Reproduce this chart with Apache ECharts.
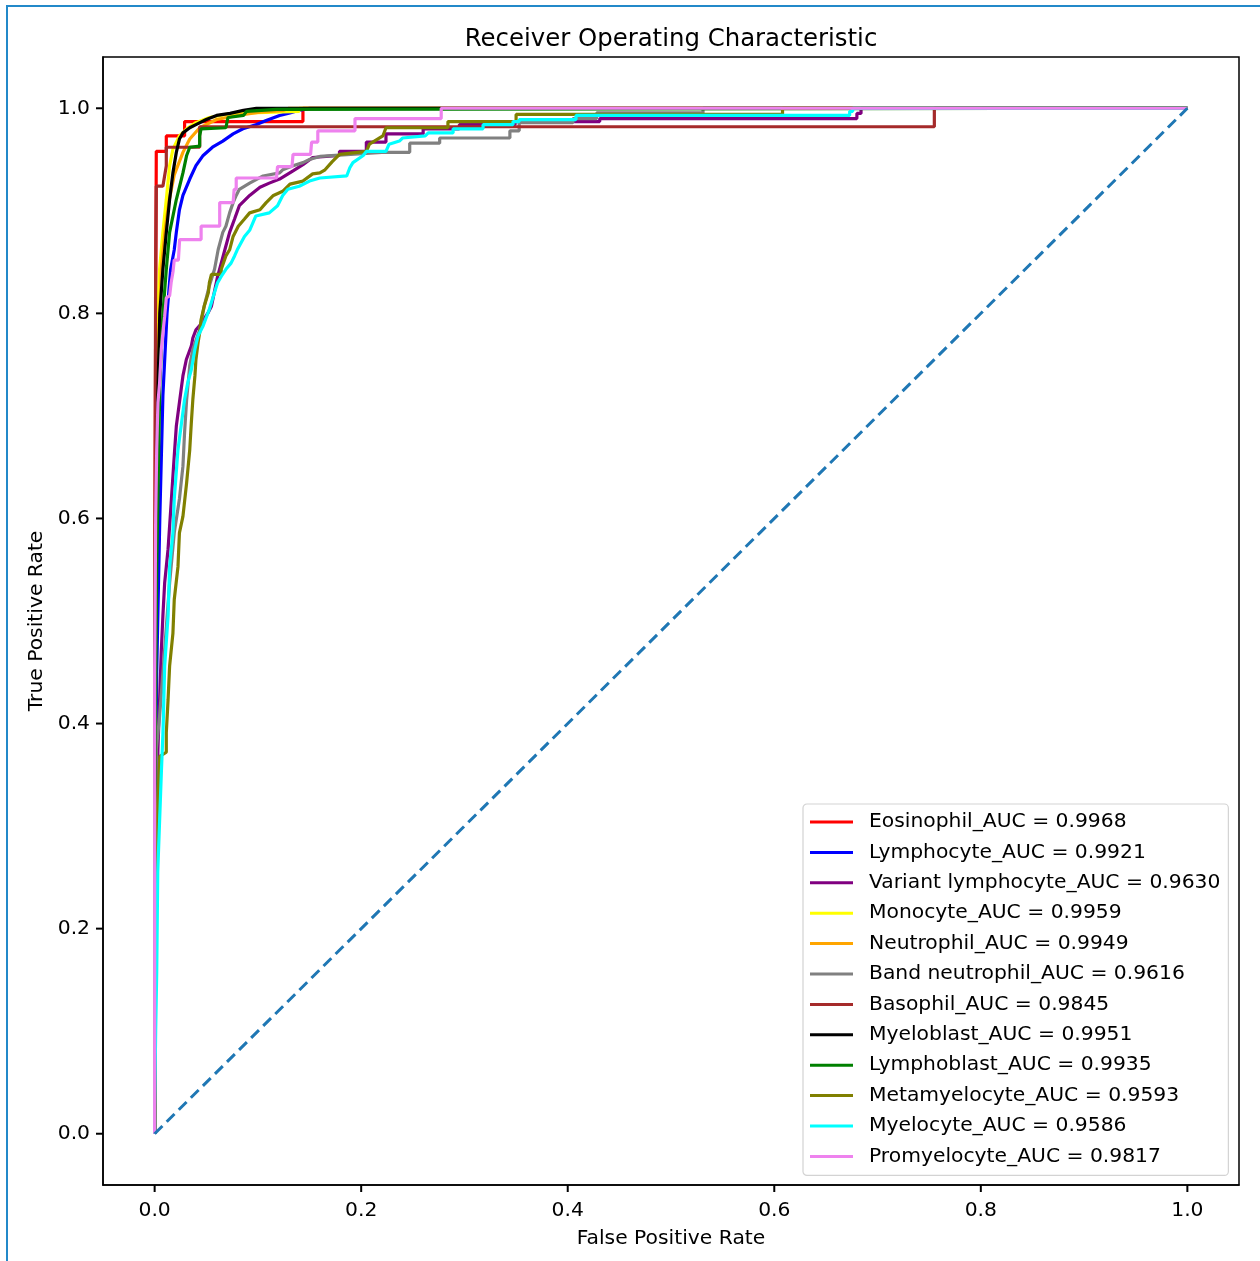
<!DOCTYPE html>
<html>
<head>
<meta charset="utf-8">
<script src="https://cdn.jsdelivr.net/npm/echarts@6/dist/echarts.min.js"></script>
<style>
  html, body { margin: 0; padding: 0; background: #fff; }
  #main { width: 1260px; height: 1261px; }
  #frame {
    position: absolute; left: 6px; top: 5px; width: 1300px; height: 1300px;
    border-left: 2.5px solid #2389c9; border-top: 2.5px solid #2389c9;
    pointer-events: none;
  }
</style>
</head>
<body>
<div id="main"></div>
<div id="frame"></div>
<script>
// class names, in legend order
const classNames = ['Eosinophil', 'Lymphocyte', 'Variant lymphocyte', 'Monocyte', 'Neutrophil',
  'Band neutrophil', 'Basophil', 'Myeloblast', 'Lymphoblast', 'Metamyelocyte', 'Myelocyte', 'Promyelocyte'];
const aucValues = ['0.9968', '0.9921', '0.9630', '0.9959', '0.9949', '0.9616', '0.9845', '0.9951', '0.9935', '0.9593', '0.9586', '0.9817'];
const lineColors = ['red', 'blue', 'purple', 'yellow', 'orange', 'gray', 'brown', 'black', 'green', 'olive', 'cyan', 'violet'];

const tickValues = [0, 0.2, 0.4, 0.6, 0.8, 1.0];
const axisMin = -0.05, axisMax = 1.05;

// ROC points [fpr, tpr]
const eosinophilRoc = [[0,0],[0,0.45],[0.001,0.8],[0.0016,0.958],[0.0113,0.958],[0.0113,0.973],[0.029,0.973],[0.029,0.987],[0.1436,0.987],[0.1436,1],[1,1]];
const lymphocyteRoc = [[0,0],[0,0.25],[0.002,0.45],[0.005,0.6],[0.008,0.72],[0.012,0.8],[0.0155,0.843],[0.019,0.862],[0.021,0.879],[0.024,0.901],[0.0274,0.915],[0.034,0.931],[0.040,0.944],[0.047,0.954],[0.056,0.962],[0.066,0.968],[0.076,0.975],[0.0855,0.98],[0.098,0.984],[0.108,0.988],[0.121,0.993],[0.131,0.9955],[0.14,0.998],[0.15,1],[1,1]];
const variantLymphocyteRoc = [[0,0],[0,0.05],[0.001,0.2],[0.002,0.3],[0.0032,0.375],[0.0048,0.423],[0.0065,0.472],[0.008,0.505],[0.0097,0.537],[0.013,0.57],[0.016,0.615],[0.019,0.661],[0.021,0.69],[0.024,0.713],[0.0274,0.739],[0.0307,0.755],[0.0355,0.768],[0.037,0.776],[0.040,0.784],[0.0436,0.788],[0.052,0.801],[0.055,0.807],[0.061,0.836],[0.0645,0.849],[0.068,0.862],[0.0726,0.879],[0.0774,0.892],[0.082,0.905],[0.092,0.915],[0.102,0.923],[0.111,0.927],[0.121,0.931],[0.134,0.939],[0.1436,0.945],[0.153,0.952],[0.179,0.954],[0.179,0.958],[0.205,0.958],[0.205,0.967],[0.224,0.967],[0.224,0.975],[0.26,0.975],[0.26,0.98],[0.295,0.98],[0.295,0.984],[0.349,0.984],[0.349,0.987],[0.431,0.987],[0.431,0.99],[0.68,0.99],[0.68,0.995],[0.684,0.995],[0.684,1],[1,1]];
const monocyteRoc = [[0,0],[0,0.3],[0.001,0.6],[0.002,0.72],[0.003,0.8],[0.0048,0.843],[0.008,0.879],[0.0113,0.911],[0.0145,0.944],[0.0177,0.96],[0.024,0.973],[0.031,0.98],[0.040,0.986],[0.053,0.991],[0.069,0.994],[0.092,0.9955],[0.14,0.997],[0.14,1],[1,1]];
const neutrophilRoc = [[0,0],[0,0.3],[0.001,0.6],[0.003,0.75],[0.0065,0.843],[0.01,0.88],[0.014,0.91],[0.019,0.935],[0.0274,0.957],[0.034,0.97],[0.0436,0.981],[0.06,0.989],[0.08,0.993],[0.1,0.996],[0.125,0.998],[0.13,1],[1,1]];
const bandNeutrophilRoc = [[0,0],[0,0.05],[0.001,0.3],[0.0016,0.375],[0.0048,0.407],[0.0097,0.472],[0.0145,0.537],[0.019,0.586],[0.024,0.619],[0.0274,0.651],[0.029,0.684],[0.031,0.716],[0.034,0.749],[0.037,0.765],[0.0436,0.784],[0.048,0.807],[0.053,0.827],[0.058,0.843],[0.0615,0.862],[0.066,0.879],[0.069,0.885],[0.0726,0.898],[0.076,0.908],[0.079,0.915],[0.082,0.921],[0.092,0.927],[0.105,0.934],[0.121,0.937],[0.124,0.94],[0.134,0.944],[0.1436,0.947],[0.15,0.95],[0.16,0.953],[0.19,0.955],[0.22,0.957],[0.247,0.957],[0.247,0.966],[0.276,0.966],[0.276,0.971],[0.344,0.971],[0.344,0.978],[0.353,0.978],[0.353,0.986],[0.405,0.986],[0.405,0.99],[0.428,0.99],[0.428,0.9955],[0.531,0.9955],[0.531,1],[1,1]];
const basophilRoc = [[0,0],[0,0.5],[0.001,0.85],[0.0016,0.924],[0.008,0.924],[0.0113,0.944],[0.0113,0.962],[0.0436,0.962],[0.0436,0.982],[0.755,0.982],[0.755,1],[1,1]];
const myeloblastRoc = [[0,0],[0,0.3],[0.001,0.55],[0.003,0.716],[0.005,0.8],[0.008,0.843],[0.0113,0.879],[0.0145,0.911],[0.0177,0.937],[0.021,0.957],[0.024,0.97],[0.0274,0.976],[0.034,0.981],[0.040,0.984],[0.050,0.989],[0.060,0.993],[0.073,0.995],[0.086,0.998],[0.0985,1],[1,1]];
const lymphoblastRoc = [[0,0],[0,0.3],[0.002,0.55],[0.005,0.73],[0.008,0.8],[0.0113,0.843],[0.0145,0.879],[0.021,0.911],[0.0274,0.937],[0.031,0.954],[0.034,0.962],[0.0436,0.963],[0.0436,0.973],[0.045,0.98],[0.069,0.981],[0.071,0.991],[0.086,0.993],[0.089,0.997],[0.118,0.999],[0.118,1],[1,1]];
const metamyelocyteRoc = [[0,0],[0,0.05],[0.001,0.2],[0.002,0.3],[0.005,0.368],[0.0113,0.372],[0.0113,0.391],[0.013,0.423],[0.0145,0.456],[0.0177,0.488],[0.019,0.521],[0.0226,0.553],[0.024,0.586],[0.0274,0.602],[0.031,0.635],[0.034,0.667],[0.0355,0.693],[0.037,0.716],[0.039,0.739],[0.040,0.755],[0.042,0.771],[0.0436,0.781],[0.045,0.794],[0.048,0.807],[0.052,0.82],[0.053,0.83],[0.055,0.838],[0.0645,0.838],[0.0645,0.843],[0.069,0.856],[0.0726,0.862],[0.076,0.875],[0.081,0.885],[0.087,0.892],[0.092,0.898],[0.102,0.901],[0.108,0.908],[0.115,0.915],[0.124,0.919],[0.131,0.926],[0.1436,0.929],[0.153,0.936],[0.160,0.937],[0.165,0.94],[0.172,0.948],[0.179,0.955],[0.205,0.958],[0.208,0.965],[0.221,0.973],[0.224,0.981],[0.284,0.981],[0.284,0.987],[0.35,0.987],[0.35,0.994],[0.608,0.994],[0.608,1],[1,1]];
const myelocyteRoc = [[0,0],[0,0.026],[0.001,0.1],[0.002,0.157],[0.003,0.255],[0.0065,0.352],[0.008,0.39],[0.0085,0.407],[0.0097,0.456],[0.013,0.505],[0.0145,0.553],[0.0177,0.586],[0.019,0.619],[0.0226,0.667],[0.026,0.693],[0.029,0.716],[0.032,0.732],[0.0355,0.745],[0.039,0.765],[0.042,0.778],[0.047,0.788],[0.053,0.804],[0.056,0.814],[0.061,0.83],[0.0645,0.836],[0.069,0.843],[0.074,0.849],[0.0774,0.856],[0.08,0.862],[0.087,0.875],[0.092,0.881],[0.098,0.895],[0.111,0.898],[0.119,0.905],[0.124,0.915],[0.129,0.921],[0.140,0.924],[0.150,0.929],[0.160,0.932],[0.186,0.934],[0.189,0.942],[0.192,0.947],[0.202,0.954],[0.205,0.958],[0.224,0.958],[0.227,0.965],[0.237,0.968],[0.240,0.971],[0.262,0.973],[0.265,0.976],[0.289,0.976],[0.289,0.98],[0.318,0.98],[0.318,0.984],[0.347,0.984],[0.347,0.987],[0.353,0.987],[0.353,0.989],[0.408,0.989],[0.408,0.993],[0.673,0.993],[0.673,0.997],[0.676,0.997],[0.676,1],[1,1]];
const promyelocyteRoc = [[0,0],[0,0.45],[0.001,0.6],[0.002,0.667],[0.0032,0.713],[0.0048,0.732],[0.0065,0.765],[0.008,0.781],[0.0097,0.797],[0.0113,0.815],[0.0145,0.817],[0.016,0.83],[0.0177,0.84],[0.019,0.852],[0.023,0.852],[0.0242,0.872],[0.045,0.872],[0.045,0.885],[0.063,0.885],[0.063,0.908],[0.076,0.908],[0.077,0.921],[0.079,0.921],[0.079,0.932],[0.118,0.932],[0.119,0.943],[0.133,0.943],[0.134,0.955],[0.151,0.955],[0.152,0.967],[0.158,0.967],[0.158,0.978],[0.194,0.978],[0.194,0.99],[0.2775,0.99],[0.2775,1],[1,1]];
const chanceLine = [[0,0],[1,1]];

const rocCurves = [eosinophilRoc, lymphocyteRoc, variantLymphocyteRoc, monocyteRoc, neutrophilRoc,
  bandNeutrophilRoc, basophilRoc, myeloblastRoc, lymphoblastRoc, metamyelocyteRoc, myelocyteRoc, promyelocyteRoc];

const font = 'DejaVu Sans';
const legendNames = classNames.map((n, i) => `${n}_AUC = ${aucValues[i]}`);

const series = rocCurves.map((pts, i) => ({
  name: legendNames[i],
  type: 'line',
  data: pts,
  showSymbol: false,
  symbol: 'none',
  lineStyle: { color: lineColors[i], width: 3.2 },
  itemStyle: { color: lineColors[i] },
  animation: false
}));
series.push({
  name: 'chance',
  type: 'line',
  data: chanceLine,
  showSymbol: false,
  symbol: 'none',
  lineStyle: { color: '#1f77b4', width: 3, type: [11, 6] },
  animation: false
});

function makeAxis(name, gap, margin) {
  return {
    type: 'value', min: axisMin, max: axisMax,
    name: name, nameLocation: 'middle', nameGap: gap,
    nameTextStyle: { fontFamily: font, fontSize: 20.3, color: '#000' },
    axisLine: { show: true, onZero: false, lineStyle: { color: '#000', width: 1.5 } },
    splitLine: { show: false },
    axisTick: { show: false },
    axisLabel: { customValues: tickValues.slice(), margin: margin, fontFamily: font, fontSize: 20.3, color: '#000',
      formatter: v => v.toFixed(1) }
  };
}

const chart = echarts.init(document.getElementById('main'));
chart.setOption({
  backgroundColor: '#fff',
  animation: false,
  title: {
    text: 'Receiver Operating Characteristic',
    left: 666,
    textAlign: 'center',
    top: 23,
    textStyle: { fontFamily: font, fontSize: 24.4, fontWeight: 'normal', color: '#000' }
  },
  grid: {
    left: 103, top: 57, width: 1136, height: 1128,
    show: true, borderColor: '#000', borderWidth: 1.5
  },
  xAxis: makeAxis('False Positive Rate', 44, 16),
  yAxis: makeAxis('True Positive Rate', 56, 13),
  legend: {
    data: legendNames,
    orient: 'vertical',
    left: 803, top: 804,
    align: 'left',
    icon: 'rect',
    itemWidth: 43, itemHeight: 3,
    itemGap: 8.4,
    padding: [7, 8, 8, 7],
    selectedMode: false,
    backgroundColor: 'rgba(255,255,255,0.8)',
    borderColor: '#d3d3d3', borderWidth: 1.2, borderRadius: 4,
    textStyle: { fontFamily: font, fontSize: 20.3, lineHeight: 22, color: '#000', padding: [0, 0, 0, 11] }
  },
  series: series
});

// outward tick marks, placed through the axes' own scales
const tickLen = 7;
const xEdge = chart.convertToPixel({ yAxisIndex: 0 }, axisMin);
const yEdge = chart.convertToPixel({ xAxisIndex: 0 }, axisMin);
const tickMarks = [];
tickValues.forEach(v => {
  const px = chart.convertToPixel({ xAxisIndex: 0 }, v);
  tickMarks.push({ type: 'line', silent: true, z: 10,
    shape: { x1: px, y1: xEdge, x2: px, y2: xEdge + tickLen },
    style: { stroke: '#000', lineWidth: 2 } });
  const py = chart.convertToPixel({ yAxisIndex: 0 }, v);
  tickMarks.push({ type: 'line', silent: true, z: 10,
    shape: { x1: yEdge - tickLen, y1: py, x2: yEdge, y2: py },
    style: { stroke: '#000', lineWidth: 2 } });
});
chart.setOption({ graphic: tickMarks });
</script>
</body>
</html>
